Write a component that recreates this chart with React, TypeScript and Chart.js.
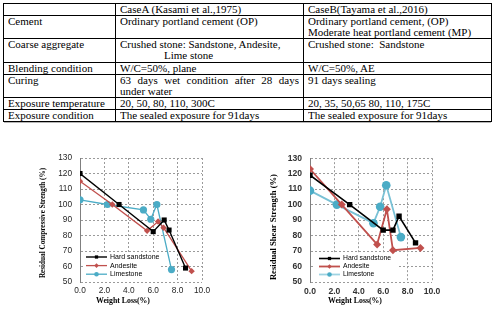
import React, { useEffect, useRef } from 'react';
import { Chart, registerables } from 'chart.js';

Chart.register(...registerables);

// ---------- table content ----------
const headerCells = ['', 'CaseA (Kasami et al.,1975)', 'CaseB(Tayama et al.,2016)'];
const rowLabels = [
  'Cement',
  'Coarse aggregate',
  'Blending condition',
  'Curing',
  'Exposure temperature',
  'Exposure condition',
];
const caseALines: string[][] = [
  ['Ordinary portland cement (OP)'],
  ['Crushed stone: Sandstone, Andesite,', 'Lime stone'],
  ['W/C=50%, plane'],
  ['63 days wet condition after 28 days', 'under water'],
  ['20, 50, 80, 110, 300C'],
  ['The sealed exposure for 91days'],
];
const caseBLines: string[][] = [
  ['Ordinary portland cement, (OP)', 'Moderate heat portland cement (MP)'],
  ['Crushed stone:  Sandstone'],
  ['W/C=50%, AE'],
  ['91 days sealing'],
  ['20, 35, 50,65 80, 110, 175C'],
  ['The sealed exposure for 91days'],
];

// ---------- chart data ----------
const weightLossTicks = [0, 2, 4, 6, 8, 10];
const strengthTicks = [50, 60, 70, 80, 90, 100, 110, 120, 130];
const seriesNames = ['Hard sandstone', 'Andesite', 'Limestone'];

// Residual compressive strength (%) against weight loss (%)
const compHardLoss = [0, 3.2, 6.0, 6.9, 7.3, 8.65];
const compHardStrength = [120, 100, 82.5, 90, 83.5, 59];
const compAndesiteLoss = [0, 2.65, 5.5, 6.4, 6.85, 9.15];
const compAndesiteStrength = [115, 100, 83, 89, 85, 57];
const compLimeLoss = [0, 2.25, 5.2, 5.8, 6.3, 7.5];
const compLimeStrength = [103, 100, 96.5, 90.5, 100, 58];

// Residual shear strength (%) against weight loss (%)
const shearHardLoss = [0, 3.25, 6.0, 6.8, 7.3, 8.65];
const shearHardStrength = [119, 100, 83.5, 83.5, 92.5, 75.3];
const shearAndesiteLoss = [0, 2.6, 5.5, 6.3, 6.8, 9.05];
const shearAndesiteStrength = [123, 100, 74.3, 97, 70.5, 72];
const shearLimeLoss = [0, 2.2, 5.2, 5.75, 6.25, 7.45];
const shearLimeStrength = [109, 100, 88, 98.6, 112.5, 79];

const pairs = (xs: number[], ys: number[]) => xs.map((x, i) => ({ x, y: ys[i] }));

// ---------- plugins ----------
function drawMarker(ctx: CanvasRenderingContext2D, style: string, x: number, y: number, r: number, color: string) {
  ctx.save();
  ctx.fillStyle = color;
  ctx.beginPath();
  if (style === 'rect') {
    const s = r * Math.SQRT1_2;
    ctx.rect(x - s, y - s, 2 * s, 2 * s);
  } else if (style === 'rectRot') {
    ctx.moveTo(x, y - r);
    ctx.lineTo(x + r, y);
    ctx.lineTo(x, y + r);
    ctx.lineTo(x - r, y);
    ctx.closePath();
  } else {
    ctx.arc(x, y, r, 0, Math.PI * 2);
  }
  ctx.fill();
  ctx.restore();
}

// Legend drawn inside the plot, lower-left, on a white patch over the grid
const insetLegend = {
  id: 'insetLegend',
  beforeDatasetsDraw(chart: any, _args: any, opts: any) {
    const { ctx, chartArea } = chart;
    const x = chartArea.left + opts.left;
    const y = chartArea.bottom - opts.bottom - opts.height;
    ctx.save();
    ctx.fillStyle = '#ffffff';
    ctx.fillRect(x, y, opts.width, opts.height);
    chart.data.datasets.forEach((ds: any, i: number) => {
      const cy = y + opts.firstRow + i * opts.rowGap;
      const lx = x + opts.lineStart;
      ctx.strokeStyle = ds.legendLineColor || ds.borderColor;
      ctx.lineWidth = ds.borderWidth;
      ctx.beginPath();
      ctx.moveTo(lx, cy);
      ctx.lineTo(lx + opts.lineLength, cy);
      ctx.stroke();
      drawMarker(ctx, ds.pointStyle, lx + opts.lineLength / 2, cy, opts.markerRadius, ds.pointBackgroundColor);
      ctx.fillStyle = opts.color;
      ctx.font = opts.font;
      ctx.textAlign = 'left';
      ctx.textBaseline = 'middle';
      ctx.fillText(ds.label, lx + opts.lineLength + opts.textGap, cy);
    });
    ctx.restore();
  },
};

// Axis captions placed relative to the plot area
const axisCaptions = {
  id: 'axisCaptions',
  afterDraw(chart: any, _args: any, opts: any) {
    const { ctx, chartArea } = chart;
    ctx.save();
    ctx.fillStyle = '#000';
    ctx.textAlign = 'center';
    ctx.textBaseline = 'middle';
    ctx.font = opts.yFont;
    ctx.translate(chartArea.left + opts.yDx, (chartArea.top + chartArea.bottom) / 2 + opts.yDy);
    ctx.rotate(-Math.PI / 2);
    ctx.fillText(opts.yText, 0, 0);
    ctx.restore();

    ctx.save();
    ctx.fillStyle = '#000';
    ctx.textAlign = 'center';
    ctx.textBaseline = 'middle';
    ctx.font = opts.xFont;
    ctx.fillText(opts.xText, (chartArea.left + chartArea.right) / 2 + opts.xDx, chartArea.bottom + opts.xDy);
    ctx.restore();
  },
};

// ---------- chart component ----------
type Spec = {
  width: number;
  height: number;
  yAxisWidth: number;
  padRight: number;
  padTop: number;
  xAxisHeight: number;
  tickFont: { family: string; size: number; weight: string };
  tickColor: string;
  datasets: any[];
  legend: any;
  captions: any;
};

const SANS = '"Liberation Sans", Arial, sans-serif';
const SERIF = '"Liberation Serif", "Times New Roman", serif';

function StrengthChart({ spec, left, top }: { spec: Spec; left: number; top: number }) {
  const ref = useRef<HTMLCanvasElement | null>(null);
  useEffect(() => {
    if (!ref.current) return;
    const chart = new Chart(ref.current, {
      type: 'line',
      data: { datasets: spec.datasets },
      plugins: [insetLegend, axisCaptions],
      options: {
        animation: false,
        responsive: false,
        maintainAspectRatio: false,
        layout: { padding: { left: 0, top: spec.padTop, right: spec.padRight, bottom: 0 } },
        plugins: {
          legend: { display: false },
          tooltip: { enabled: false },
          insetLegend: spec.legend,
          axisCaptions: spec.captions,
        } as any,
        scales: {
          x: {
            type: 'linear',
            min: weightLossTicks[0],
            max: weightLossTicks[weightLossTicks.length - 1],
            afterBuildTicks: (s: any) => {
              s.ticks = weightLossTicks.map((v) => ({ value: v }));
            },
            afterFit: (s: any) => {
              s.height = spec.xAxisHeight;
            },
            ticks: {
              padding: 4,
              color: spec.tickColor,
              font: spec.tickFont,
              maxRotation: 0,
              callback: (v: any) => Number(v).toFixed(1),
            },
            grid: { color: '#9a9a9a', lineWidth: 1, drawTicks: false },
            border: { display: false, dash: [2, 2] },
          },
          y: {
            type: 'linear',
            min: strengthTicks[0],
            max: strengthTicks[strengthTicks.length - 1],
            afterBuildTicks: (s: any) => {
              s.ticks = strengthTicks.map((v) => ({ value: v }));
            },
            afterFit: (s: any) => {
              s.width = spec.yAxisWidth;
            },
            ticks: { padding: 8, color: spec.tickColor, font: spec.tickFont },
            grid: { color: '#9a9a9a', lineWidth: 1, drawTicks: false },
            border: { display: true, color: '#7f7f7f', width: 1, dash: [2, 2] },
          },
        },
        elements: { line: { tension: 0 } },
      } as any,
    });
    return () => chart.destroy();
  }, [spec]);
  return (
    <canvas
      ref={ref}
      width={spec.width}
      height={spec.height}
      style={{ position: 'absolute', left, top, width: spec.width, height: spec.height }}
    />
  );
}

const RED = '#c0504d';
const TEAL = '#4bacc6';

const compSpec: Spec = {
  width: 246,
  height: 164,
  yAxisWidth: 80,
  padRight: 44,
  padTop: 13,
  xAxisHeight: 27,
  tickFont: { family: SANS, size: 8.3, weight: 'normal' },
  tickColor: '#262626',
  datasets: [
    {
      label: seriesNames[0],
      data: pairs(compHardLoss, compHardStrength),
      borderColor: '#000',
      backgroundColor: '#000',
      pointBackgroundColor: '#000',
      pointBorderWidth: 0,
      pointStyle: 'rect',
      pointRadius: 3.6,
      borderWidth: 1.4,
    },
    {
      label: seriesNames[1],
      data: pairs(compAndesiteLoss, compAndesiteStrength),
      borderColor: RED,
      backgroundColor: RED,
      pointBackgroundColor: RED,
      pointBorderWidth: 0,
      pointStyle: 'rectRot',
      pointRadius: 3.2,
      borderWidth: 1.3,
    },
    {
      label: seriesNames[2],
      data: pairs(compLimeLoss, compLimeStrength),
      borderColor: TEAL,
      backgroundColor: TEAL,
      pointBackgroundColor: TEAL,
      pointBorderWidth: 0,
      pointStyle: 'circle',
      pointRadius: 3.6,
      borderWidth: 1.3,
    },
  ],
  legend: {
    left: 3,
    bottom: 1,
    width: 78,
    height: 29,
    firstRow: 5,
    rowGap: 8.6,
    lineStart: 3,
    lineLength: 21,
    textGap: 3,
    markerRadius: 2.3,
    color: '#000',
    font: `7px ${SANS}`,
  },
  captions: {
    yText: 'Residual Compressive Strength (%)',
    yFont: `bold 7.2px ${SERIF}`,
    yDx: -37,
    yDy: 3,
    xText: 'Weight Loss(%)',
    xFont: `bold 7.8px ${SERIF}`,
    xDx: -18,
    xDy: 19,
  },
};

const shearSpec: Spec = {
  width: 247,
  height: 164,
  yAxisWidth: 64,
  padRight: 61,
  padTop: 13,
  xAxisHeight: 27,
  tickFont: { family: SANS, size: 8.6, weight: 'bold' },
  tickColor: '#333',
  datasets: [
    {
      label: seriesNames[0],
      data: pairs(shearHardLoss, shearHardStrength),
      borderColor: '#000',
      backgroundColor: '#000',
      pointBackgroundColor: '#000',
      pointBorderWidth: 0,
      pointStyle: 'rect',
      pointRadius: 3.8,
      borderWidth: 1.6,
    },
    {
      label: seriesNames[1],
      data: pairs(shearAndesiteLoss, shearAndesiteStrength),
      borderColor: RED,
      backgroundColor: RED,
      pointBackgroundColor: RED,
      pointBorderWidth: 0,
      pointStyle: 'rectRot',
      pointRadius: 4,
      borderWidth: 1.8,
    },
    {
      label: seriesNames[2],
      data: pairs(shearLimeLoss, shearLimeStrength),
      borderColor: '#79c1d5',
      legendLineColor: '#9fd3e2',
      backgroundColor: TEAL,
      pointBackgroundColor: TEAL,
      pointBorderWidth: 0,
      pointStyle: 'circle',
      pointRadius: 4.3,
      borderWidth: 1.8,
    },
  ],
  legend: {
    left: 4,
    bottom: 1,
    width: 84,
    height: 28,
    firstRow: 5.5,
    rowGap: 8,
    lineStart: 5,
    lineLength: 21,
    textGap: 3,
    markerRadius: 2.3,
    color: '#000',
    font: `6.8px ${SANS}`,
  },
  captions: {
    yText: 'Residual Shear Strength (%)',
    yFont: `bold 8.6px ${SERIF}`,
    yDx: -36,
    yDy: 7,
    xText: 'Weight Loss(%)',
    xFont: `bold 7.8px ${SERIF}`,
    xDx: -16,
    xDy: 19,
  },
};

// ---------- table ----------
const cellBase: React.CSSProperties = {
  border: '1px solid #000',
  padding: '0 4px',
  verticalAlign: 'top',
  whiteSpace: 'pre',
};
// inner content height of each row (header first)
const rowHeights = [11, 22, 23, 11, 22, 11, 11];

function lineStyle(row: number, col: number, li: number): React.CSSProperties {
  if (col === 1 && row === 3 && li === 0) return { textAlign: 'justify', textAlignLast: 'justify', whiteSpace: 'normal' };
  if (col === 1 && row === 1 && li === 1) return { paddingLeft: 44 };
  return {};
}

function Cell({ h, children }: { h: number; children?: React.ReactNode }) {
  return (
    <td style={cellBase}>
      <div style={{ height: h, overflow: 'hidden' }}>{children}</div>
    </td>
  );
}

function ConditionsTable() {
  return (
    <table
      style={{
        position: 'absolute',
        left: 3,
        top: 3,
        width: 488,
        borderCollapse: 'collapse',
        tableLayout: 'fixed',
        fontFamily: SERIF,
        fontSize: 11,
        lineHeight: '11px',
        color: '#000',
        boxShadow: '0 2px 0 -1px #b5b5b5',
      }}
    >
      <colgroup>
        <col style={{ width: 112 }} />
        <col style={{ width: 188 }} />
        <col style={{ width: 188 }} />
      </colgroup>
      <tbody>
        <tr>
          {headerCells.map((h, i) => (
            <Cell key={i} h={rowHeights[0]}>
              {h}
            </Cell>
          ))}
        </tr>
        {rowLabels.map((label, r) => (
          <tr key={label}>
            <Cell h={rowHeights[r + 1]}>{label}</Cell>
            {[caseALines[r], caseBLines[r]].map((lines, c) => (
              <Cell key={c} h={rowHeights[r + 1]}>
                {lines.map((t, li) => (
                  <div key={li} style={lineStyle(r, c + 1, li)}>
                    {t}
                  </div>
                ))}
              </Cell>
            ))}
          </tr>
        ))}
      </tbody>
    </table>
  );
}

export default function App() {
  return (
    <div
      style={{
        position: 'fixed',
        left: 0,
        top: 0,
        width: 493,
        height: 309,
        background: '#fff',
        overflow: 'hidden',
      }}
    >
      <ConditionsTable />
      <StrengthChart spec={compSpec} left={0} top={145} />
      <StrengthChart spec={shearSpec} left={246} top={145} />
    </div>
  );
}
